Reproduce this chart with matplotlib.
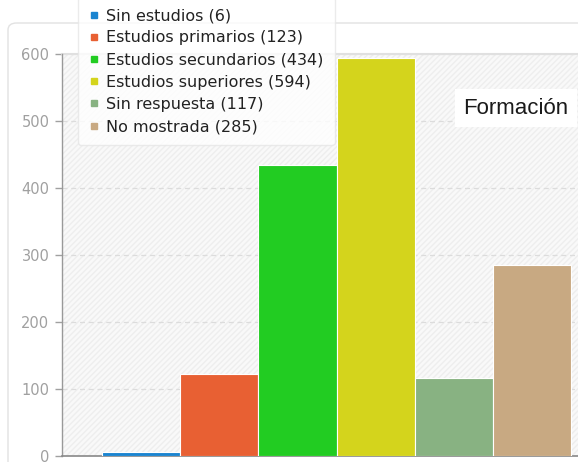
import matplotlib
matplotlib.use("Agg")
import matplotlib.pyplot as plt
from matplotlib.lines import Line2D
from matplotlib.patches import FancyBboxPatch, Rectangle

categories = ["Sin estudios", "Estudios primarios", "Estudios secundarios",
              "Estudios superiores", "Sin respuesta", "No mostrada"]
values = [6, 123, 434, 594, 117, 285]
colors = ["#1a84d0", "#e86033", "#22cc22", "#d4d41c", "#88b282", "#c8a982"]
y_ticks = [0, 100, 200, 300, 400, 500, 600]
title = "Formación"

W, H = 578, 462
fig = plt.figure(figsize=(W / 100, H / 100), dpi=100)
fig.patch.set_facecolor("white")

# outer panel
panel = FancyBboxPatch((8 / W, -0.05), 1.0, (H - 23) / H + 0.05,
                       boxstyle="round,pad=0,rounding_size=0.015",
                       transform=fig.transFigure, facecolor="white",
                       edgecolor="#e2e2e2", linewidth=1.0, zorder=-5)
fig.patches.append(panel)

left = 62 / W
bottom = (H - 456) / H
height = (456 - 54) / H
px_per_unit = 78.2
xmin = -0.5 - 40 / px_per_unit
xmax = 5.5 + 40 / px_per_unit
width = (xmax - xmin) * px_per_unit / W
ax = fig.add_axes([left, bottom, width, height])
ax.set_xlim(xmin, xmax)
ax.set_ylim(0, 600)

ax.set_facecolor("#f9f9f9")
bg = Rectangle((0, 0), 1, 1, transform=ax.transAxes, facecolor="none",
               edgecolor="#eeeeee", hatch="//////", linewidth=0, zorder=0)
ax.add_patch(bg)

for y in y_ticks[1:]:
    ax.axhline(y, color="#dcdcdc", linestyle=(0, (4, 3)), linewidth=0.9, zorder=1)

xs = list(range(len(values)))
ax.bar(xs, values, width=1.0, color=colors, edgecolor="#ffffff",
       linewidth=0.8, zorder=3)

ax.set_yticks(y_ticks)
ax.set_yticklabels([str(t) for t in y_ticks])
ax.set_xticks([])
ax.tick_params(axis="y", colors="#a0a0a0", labelsize=10.5, length=5,
               width=1, pad=4)
for s in ["top", "right"]:
    ax.spines[s].set_visible(False)
ax.spines["left"].set_color("#999999")
ax.spines["bottom"].set_color("#888888")
ax.spines["left"].set_linewidth(1)
ax.spines["bottom"].set_linewidth(1.2)
ax.plot([0, 1], [1, 1], transform=ax.transAxes, color="#e0e0e0",
        linewidth=1.5, clip_on=False, zorder=2)

# title with white background
fig.text(463 / W, 1 - 108 / H, title, fontsize=16, family="Liberation Sans",
         color="#1a1a1a", va="center", ha="left",
         bbox=dict(facecolor="white", edgecolor="none", pad=6))

handles = [Line2D([0], [0], marker="s", linestyle="none", markersize=4.5,
                  markerfacecolor=c, markeredgecolor=c) for c in colors]
labels = [f"{c} ({v})" for c, v in zip(categories, values)]
leg = fig.legend(handles, labels, loc="upper left",
                 bbox_to_anchor=(78 / W, 1 + 3 / H), frameon=True,
                 fancybox=True, shadow=False, fontsize=11.5,
                 handlelength=0.6, handletextpad=0.45, labelspacing=0.45,
                 borderpad=0.7, borderaxespad=0)
leg.get_frame().set_edgecolor("#e6e6e6")
leg.get_frame().set_linewidth(1.0)
for t in leg.get_texts():
    t.set_color("#222222")

fig.savefig("out.png", dpi=100)
